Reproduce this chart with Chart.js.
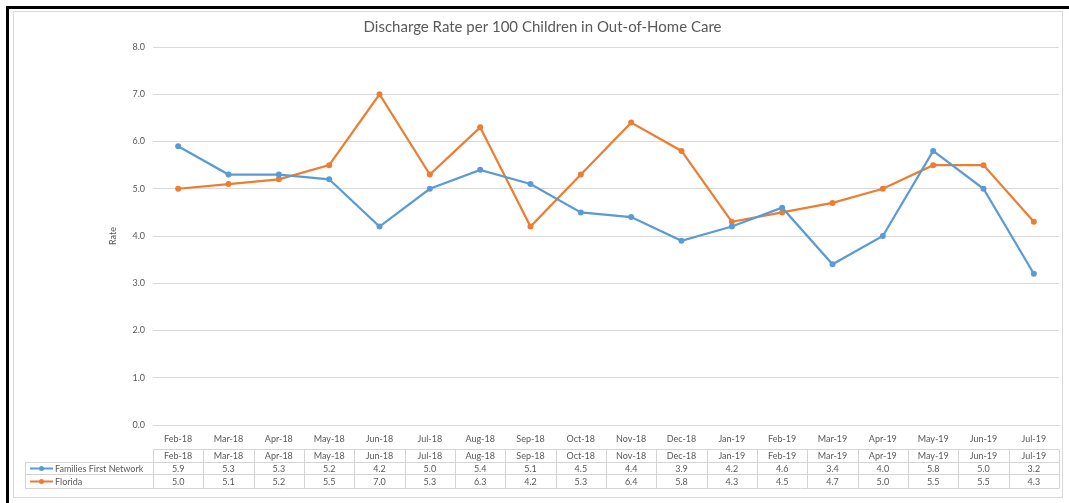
<!DOCTYPE html>
<html>
<head>
<meta charset="utf-8">
<title>Discharge Rate per 100 Children in Out-of-Home Care</title>
<script src="https://cdn.jsdelivr.net/npm/chart.js@4.4.1/dist/chart.umd.min.js"></script>
<style>
  html, body { margin: 0; padding: 0; background: #fff; }
  body { width: 1069px; height: 503px; position: relative; overflow: hidden; }
  #frame { position: absolute; left: 6px; top: 6px; right: -10px; bottom: -10px;
           border-top: 3px solid #000; border-left: 3px solid #000; }
  #panel { position: absolute; left: 13px; top: 11px; width: 1048px; height: 485px;
           border: 1px solid #d9d9d9; }
  #wrap { position: absolute; left: 0; top: 0; width: 1069px; height: 503px; }
</style>
</head>
<body>
<div id="frame"></div>
<div id="panel"></div>
<div id="wrap"><canvas id="rateChart"></canvas></div>
<script>
"use strict";

/* ─── DATA ─── */
const months = ["Feb-18","Mar-18","Apr-18","May-18","Jun-18","Jul-18","Aug-18","Sep-18","Oct-18",
                "Nov-18","Dec-18","Jan-19","Feb-19","Mar-19","Apr-19","May-19","Jun-19","Jul-19"];
const familiesFirst = [5.9, 5.3, 5.3, 5.2, 4.2, 5.0, 5.4, 5.1, 4.5, 4.4, 3.9, 4.2, 4.6, 3.4, 4.0, 5.8, 5.0, 3.2];
const florida       = [5.0, 5.1, 5.2, 5.5, 7.0, 5.3, 6.3, 4.2, 5.3, 6.4, 5.8, 4.3, 4.5, 4.7, 5.0, 5.5, 5.5, 4.3];
const seriesNames = ["Families First Network", "Florida"];

/* ─── COLORS ─── */
const C = {
  blue: "#5B9BD5", orange: "#ED7D31",
  text: "#595959", grid: "#d9d9d9", cell: "#d4d4d4",
};
const FONT = "Lato, 'Open Sans', sans-serif";

/* data table drawn under the x axis, columns follow the category scale */
const dataTable = {
  id: "dataTable",
  afterDraw(chart) {
    const ctx = chart.ctx;
    const x = chart.scales.x;
    const n = months.length;
    const colW = x.width / n;
    const left = x.left, right = x.right;
    const legendLeft = 25;
    const rows = [449.5, 462.5, 474.5, 488.5];
    const rowVals = [familiesFirst, florida];
    const colors = [C.blue, C.orange];

    ctx.save();
    ctx.strokeStyle = C.cell;
    ctx.lineWidth = 1;
    ctx.beginPath();
    // header row
    ctx.moveTo(left, rows[0]); ctx.lineTo(right, rows[0]);
    for (let r = 1; r < rows.length; r++) {
      ctx.moveTo(legendLeft, rows[r]); ctx.lineTo(right, rows[r]);
    }
    ctx.moveTo(legendLeft + 0.5, rows[1]); ctx.lineTo(legendLeft + 0.5, rows[3]);
    for (let i = 0; i <= n; i++) {
      const xx = Math.round(left + i * colW) + 0.5;
      ctx.moveTo(xx, rows[0]); ctx.lineTo(xx, rows[3]);
    }
    ctx.stroke();

    ctx.font = "9px " + FONT;
    ctx.fillStyle = C.text;
    ctx.textAlign = "center";
    ctx.textBaseline = "middle";
    months.forEach((m, i) => {
      const cx = x.getPixelForValue(i);
      ctx.fillText(m, cx, (rows[0] + rows[1]) / 2 + 0.5);
      rowVals.forEach((vals, r) => {
        ctx.fillText(vals[i].toFixed(1), cx, (rows[r + 1] + rows[r + 2]) / 2 + 0.5);
      });
    });

    // legend keys
    ctx.textAlign = "left";
    seriesNames.forEach((name, r) => {
      const cy = (rows[r + 1] + rows[r + 2]) / 2;
      ctx.strokeStyle = colors[r];
      ctx.lineWidth = 2;
      ctx.beginPath(); ctx.moveTo(30, cy); ctx.lineTo(53, cy); ctx.stroke();
      ctx.fillStyle = colors[r];
      ctx.beginPath(); ctx.arc(41.5, cy, 2.5, 0, Math.PI * 2); ctx.fill();
      ctx.fillStyle = C.text;
      ctx.fillText(name, 55, cy + 0.5);
    });
    ctx.restore();
  }
};

const ctx = document.getElementById("rateChart");
new Chart(ctx, {
  type: "line",
  data: {
    labels: months,
    datasets: [
      { label: seriesNames[0], data: familiesFirst, borderColor: C.blue, backgroundColor: C.blue,
        pointBackgroundColor: C.blue, pointBorderWidth: 0, pointRadius: 3, borderWidth: 2.25, tension: 0 },
      { label: seriesNames[1], data: florida, borderColor: C.orange, backgroundColor: C.orange,
        pointBackgroundColor: C.orange, pointBorderWidth: 0, pointRadius: 3, borderWidth: 2.25, tension: 0 },
    ]
  },
  plugins: [dataTable],
  options: {
    responsive: true, maintainAspectRatio: false, animation: false,
    layout: { padding: { left: 26, right: 10, top: 14, bottom: 54 } },
    plugins: {
      legend: { display: false },
      tooltip: { enabled: false },
      title: {
        display: true,
        text: "Discharge Rate per 100 Children in Out-of-Home Care",
        color: C.text,
        font: { family: FONT, size: 15, weight: "normal" },
        padding: { top: 4, bottom: 11 },
      },
    },
    scales: {
      y: {
        min: 0, max: 8,
        afterFit: s => { s.width = 127; },
        grid: { color: C.grid, drawTicks: false },
        border: { display: false },
        ticks: { stepSize: 1, color: C.text, padding: 8, font: { family: FONT, size: 9 },
                 callback: v => v.toFixed(1) },
        title: { display: true, text: "Rate", color: C.text, font: { family: FONT, size: 9 },
                 padding: { top: 82, bottom: 4 } },
      },
      x: {
        offset: true,
        afterFit: s => { s.height = 24; },
        grid: { display: false, offset: true },
        border: { display: true, color: C.grid },
        ticks: { color: C.text, padding: 1, maxRotation: 0, autoSkip: false, font: { family: FONT, size: 9 } },
      },
    },
  }
});
</script>
</body>
</html>
